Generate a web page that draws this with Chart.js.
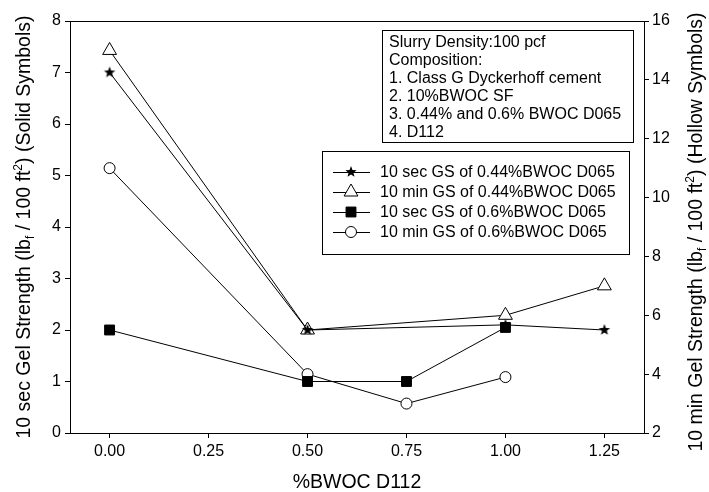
<!DOCTYPE html>
<html>
<head>
<meta charset="utf-8">
<script src="https://cdn.jsdelivr.net/npm/chart.js@4.4.0/dist/chart.umd.min.js"></script>
<style>
  html, body { margin: 0; padding: 0; background: #fff; }
  #wrap { width: 709px; height: 492px; }
</style>
</head>
<body>
<div id="wrap"><canvas id="gelChart" width="709" height="492"></canvas></div>
<script>
// data: %BWOC D112 on x
const secX044 = [0, 0.5, 1.0, 1.25];
const sec044 = [7, 2, 2.1, 2];          // left axis
const minX044 = [0, 0.5, 1.0, 1.25];
const min044 = [15, 5.5, 6.0, 7.0];     // right axis
const secX06 = [0, 0.5, 0.75, 1.0];
const sec06 = [2, 1, 1, 2.05];          // left axis
const minX06 = [0, 0.5, 0.75, 1.0];
const min06 = [11, 4, 3, 3.9];          // right axis

const xTicks = [0, 0.25, 0.5, 0.75, 1.0, 1.25];
const leftTicks = [0, 1, 2, 3, 4, 5, 6, 7, 8];
const rightTicks = [2, 4, 6, 8, 10, 12, 14, 16];

const seriesNames = [
  "10 sec GS of 0.44%BWOC D065",
  "10 min GS of 0.44%BWOC D065",
  "10 sec GS of 0.6%BWOC D065",
  "10 min GS of 0.6%BWOC D065"
];
const noteLines = [
  "Slurry Density:100 pcf",
  "Composition:",
  "1. Class G Dyckerhoff cement",
  "2. 10%BWOC SF",
  "3. 0.44% and 0.6% BWOC D065",
  "4. D112"
];

const FONT = "'Liberation Sans', Arial, sans-serif";

// filled five point star as an image point style
function makeStar(r) {
  const c = document.createElement("canvas");
  c.width = c.height = r * 2 + 2;
  const g = c.getContext("2d");
  g.translate(r + 1, r + 1);
  g.beginPath();
  for (let i = 0; i < 10; i++) {
    const rad = i % 2 === 0 ? r : r * 0.42;
    const a = -Math.PI / 2 + i * Math.PI / 5;
    g.lineTo(rad * Math.cos(a), rad * Math.sin(a));
  }
  g.closePath();
  g.fillStyle = "#000";
  g.fill();
  return c;
}
const star = makeStar(6);

const pts = (xs, ys) => xs.map((x, i) => ({ x: x, y: ys[i] }));

const styles = [
  { pointStyle: star, radius: 6, bg: "#000" },
  { pointStyle: "triangle", radius: 8, bg: "#fff" },
  { pointStyle: "rect", radius: 7, bg: "#000" },
  { pointStyle: "circle", radius: 5.5, bg: "#fff" }
];

function ds(i, data, axis) {
  return {
    label: seriesNames[i],
    data: data,
    yAxisID: axis,
    borderColor: "#000",
    borderWidth: 1,
    pointStyle: styles[i].pointStyle,
    pointRadius: styles[i].radius,
    pointBackgroundColor: styles[i].bg,
    pointBorderColor: "#000",
    pointBorderWidth: 1,
    fill: false,
    tension: 0
  };
}

// text with sub/superscript parts
function richWidth(ctx, parts, size) {
  let w = 0;
  parts.forEach(p => {
    ctx.font = (p.sub || p.sup ? size * 0.62 : size) + "px " + FONT;
    w += ctx.measureText(p.t).width;
  });
  return w;
}
function drawRich(ctx, parts, size, cx, cy, rot) {
  ctx.save();
  ctx.translate(cx, cy);
  ctx.rotate(rot);
  const w = richWidth(ctx, parts, size);
  let x = -w / 2;
  ctx.textBaseline = "middle";
  ctx.textAlign = "left";
  ctx.fillStyle = "#000";
  parts.forEach(p => {
    let dy = 0;
    if (p.sub) dy = size * 0.3;
    if (p.sup) dy = -size * 0.35;
    ctx.font = (p.sub || p.sup ? size * 0.62 : size) + "px " + FONT;
    ctx.fillText(p.t, x, dy);
    x += ctx.measureText(p.t).width;
  });
  ctx.restore();
}

const decor = {
  id: "decor",
  afterDraw(chart) {
    const ctx = chart.ctx;
    const a = chart.chartArea;
    ctx.save();
    // frame
    ctx.strokeStyle = "#000";
    ctx.lineWidth = 1;
    ctx.strokeRect(a.left + 0.5, a.top + 0.5, a.right - a.left, a.bottom - a.top);

    // note box
    ctx.fillStyle = "#fff";
    ctx.fillRect(382, 30, 251, 112);
    ctx.strokeRect(382.5, 30.5, 251, 112);
    ctx.fillStyle = "#000";
    ctx.font = "16px " + FONT;
    ctx.textBaseline = "middle";
    ctx.textAlign = "left";
    noteLines.forEach((t, i) => ctx.fillText(t, 389, 43 + i * 18));

    // legend box
    ctx.fillStyle = "#fff";
    ctx.fillRect(322, 151, 307, 103);
    ctx.strokeRect(322.5, 151.5, 307, 103);
    seriesNames.forEach((name, i) => {
      const y = 172 + i * 20;
      ctx.strokeStyle = "#000";
      ctx.lineWidth = 1;
      ctx.beginPath();
      ctx.moveTo(333, y + 0.5);
      ctx.lineTo(370, y + 0.5);
      ctx.stroke();
      ctx.fillStyle = styles[i].bg;
      Chart.helpers.drawPoint(ctx, {
        pointStyle: styles[i].pointStyle,
        radius: styles[i].radius,
        rotation: 0,
        borderWidth: 1
      }, 351, y);
      ctx.fillStyle = "#000";
      ctx.font = "16px " + FONT;
      ctx.textBaseline = "middle";
      ctx.fillText(name, 380, y + 1);
    });
    ctx.restore();

    // axis titles
    drawRich(ctx, [
      { t: "10 sec Gel Strength (lb" }, { t: "f", sub: true },
      { t: " / 100 ft" }, { t: "2", sup: true }, { t: ") (Solid Symbols)" }
    ], 19.5, 25, 227, -Math.PI / 2);
    drawRich(ctx, [
      { t: "10 min Gel Strength (lb" }, { t: "f", sub: true },
      { t: " / 100 ft" }, { t: "2", sup: true }, { t: ") (Hollow Symbols)" }
    ], 19.5, 697, 232, -Math.PI / 2);
    drawRich(ctx, [{ t: "%BWOC D112" }], 19.5, 357, 483, 0);
  }
};

const tickFont = { family: FONT, size: 16 };

new Chart(document.getElementById("gelChart"), {
  type: "line",
  data: {
    datasets: [
      ds(0, pts(secX044, sec044), "yL"),
      ds(1, pts(minX044, min044), "yR"),
      ds(2, pts(secX06, sec06), "yL"),
      ds(3, pts(minX06, min06), "yR")
    ]
  },
  options: {
    responsive: false,
    animation: false,
    layout: { padding: { top: 21, left: 0, right: 0, bottom: 0 } },
    plugins: { legend: { display: false }, tooltip: { enabled: false } },
    scales: {
      x: {
        type: "linear",
        min: -0.1,
        max: 1.35,
        afterBuildTicks: s => { s.ticks = xTicks.map(v => ({ value: v })); },
        afterFit: s => { s.height = 59; },
        grid: { drawOnChartArea: false, drawTicks: true, tickLength: 5, color: "#000" },
        border: { color: "#000" },
        ticks: { color: "#000", font: tickFont, padding: 4, maxRotation: 0,
                 callback: v => Number(v).toFixed(2) }
      },
      yL: {
        type: "linear",
        position: "left",
        min: 0,
        max: 8,
        afterBuildTicks: s => { s.ticks = leftTicks.map(v => ({ value: v })); },
        afterFit: s => { s.width = 70; },
        grid: { drawOnChartArea: false, drawTicks: true, tickLength: 5, color: "#000" },
        border: { color: "#000" },
        ticks: { color: "#000", font: tickFont, padding: 4 }
      },
      yR: {
        type: "linear",
        position: "right",
        min: 2,
        max: 16,
        afterBuildTicks: s => { s.ticks = rightTicks.map(v => ({ value: v })); },
        afterFit: s => { s.width = 65; },
        grid: { drawOnChartArea: false, drawTicks: true, tickLength: 5, color: "#000" },
        border: { color: "#000" },
        ticks: { color: "#000", font: tickFont, padding: 3 }
      }
    }
  },
  plugins: [decor]
});
</script>
</body>
</html>
